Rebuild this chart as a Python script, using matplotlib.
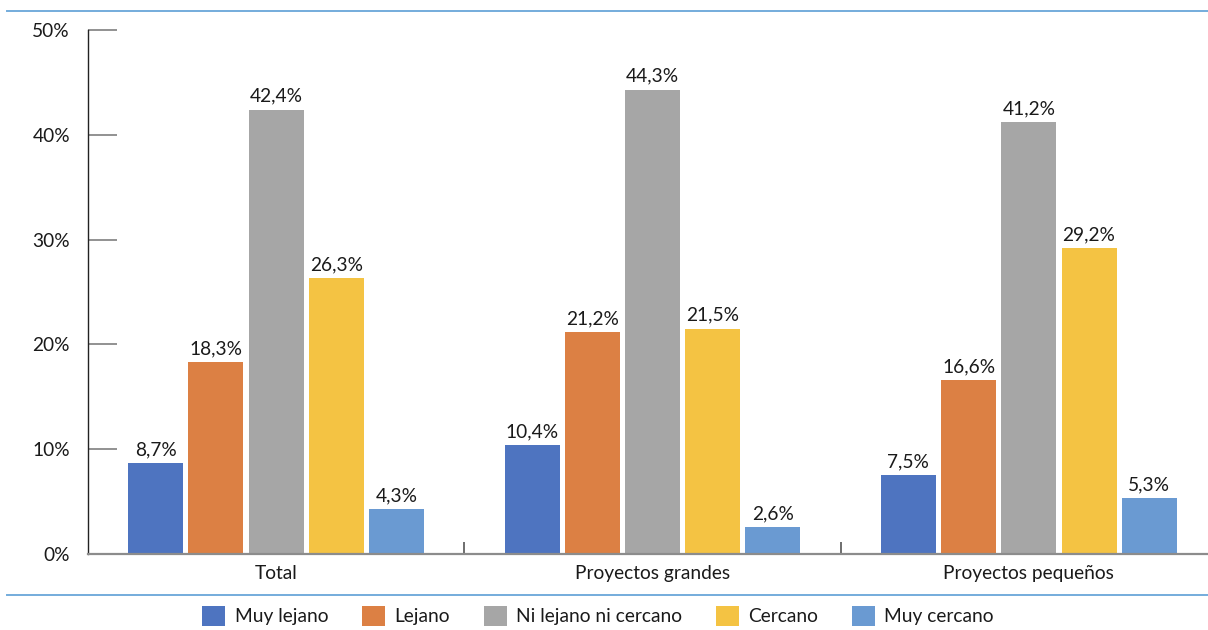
import matplotlib
matplotlib.use("Agg")
import matplotlib.pyplot as plt
from matplotlib.patches import Patch
from matplotlib.lines import Line2D
import numpy as np

plt.rcParams['font.family'] = ['Lato', 'DejaVu Sans']

categories = ["Total", "Proyectos grandes", "Proyectos pequeños"]
series_names = ["Muy lejano", "Lejano", "Ni lejano ni cercano", "Cercano", "Muy cercano"]
muy_lejano = [8.7, 10.4, 7.5]
lejano = [18.3, 21.2, 16.6]
ni_lejano_ni_cercano = [42.4, 44.3, 41.2]
cercano = [26.3, 21.5, 29.2]
muy_cercano = [4.3, 2.6, 5.3]
y_ticks = [0, 10, 20, 30, 40, 50]

series_values = [muy_lejano, lejano, ni_lejano_ni_cercano, cercano, muy_cercano]
colors = ["#4E74C0", "#DC8044", "#A6A6A6", "#F4C343", "#6A9AD2"]

W, H = 1208, 630
fig = plt.figure(figsize=(W / 100, H / 100), dpi=100)
ax = fig.add_axes([88 / W, (H - 554) / H, (1217 - 88) / W, (554 - 30) / H])

x = np.arange(len(categories))
pitch = 0.16
width = 0.146
fs = 13.8

for i, (name, vals, c) in enumerate(zip(series_names, series_values, colors)):
    pos = x + (i - 2) * pitch
    bars = ax.bar(pos, vals, width=width, color=c, label=name, zorder=2)
    for b, v in zip(bars, vals):
        ax.annotate(f"{v:.1f}%".replace(".", ","),
                    (b.get_x() + b.get_width() / 2, v),
                    xytext=(0, 3.5), textcoords="offset points",
                    ha="center", va="bottom", fontsize=fs, color="#1a1a1a")

ax.set_xlim(-0.5, 2.5)
ax.set_ylim(0, 50)
ax.set_yticks(y_ticks)
ax.set_yticklabels([f"{t}%" for t in y_ticks])
ax.tick_params(axis="y", direction="in", length=21, width=1.2, color="#7f7f7f",
               pad=13, labelsize=fs, labelcolor="#1a1a1a")

ax.set_xticks(x)
ax.set_xticklabels(categories)
ax.tick_params(axis="x", which="major", length=0, pad=8, labelsize=fs, labelcolor="#1a1a1a")
ax.set_xticks([0.5, 1.5], minor=True)
ax.tick_params(axis="x", which="minor", direction="in", length=9, width=1.2, color="#555555")

for s in ["top", "right"]:
    ax.spines[s].set_visible(False)
ax.spines["left"].set_color("#222222")
ax.spines["left"].set_linewidth(1.0)
ax.spines["bottom"].set_color("#8c8c8c")
ax.spines["bottom"].set_linewidth(1.6)
ax.spines["bottom"].set_zorder(3)

# Horizontal rules above the chart and above the legend
for yy in [H - 11, H - 595]:
    fig.add_artist(Line2D([7 / W, 1.0], [yy / H, yy / H], transform=fig.transFigure,
                          color="#74ACDC", linewidth=1.4))

handles = [Patch(facecolor=c, edgecolor="none") for c in colors]
fig.legend(handles, series_names, loc="center", bbox_to_anchor=(598 / W, (H - 616) / H),
           ncol=5, frameon=False, fontsize=fs, handlelength=1.2, handleheight=1.2,
           handletextpad=0.5, columnspacing=1.75, labelcolor="#1a1a1a")

fig.savefig("out.png", dpi=100)
